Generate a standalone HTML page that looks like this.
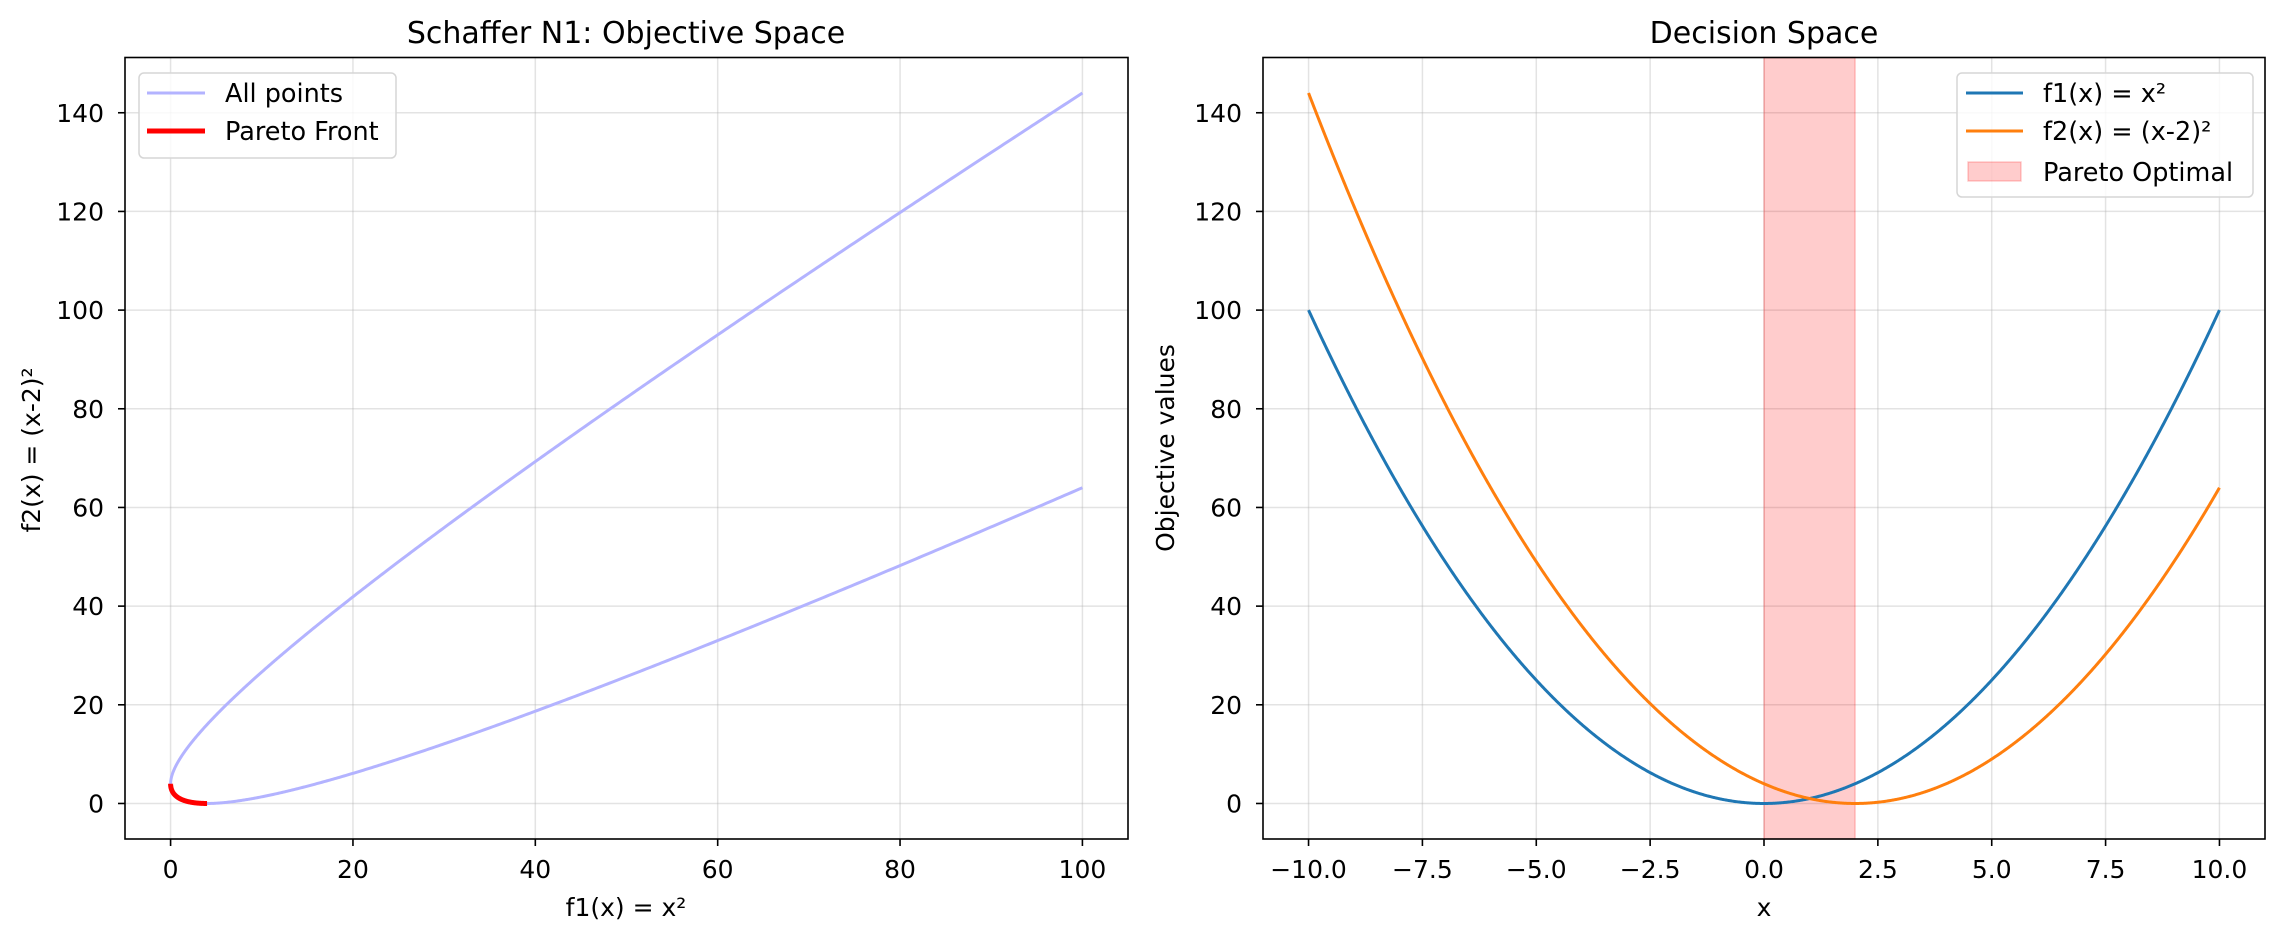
<!DOCTYPE html>
<html><head><meta charset="utf-8"><style>
html,body{margin:0;padding:0;background:#fff;}
svg{display:block;font-family:"DejaVu Sans","Liberation Sans",sans-serif;}
</style></head><body>
<svg id="s" width="2284" height="940" viewBox="0 0 2284 940" xmlns="http://www.w3.org/2000/svg">
<rect width="2284" height="940" fill="#fff"/>
<g id="g"></g>
<text x="626" y="43" font-size="30" text-anchor="middle">Schaffer N1: Objective Space</text>
<text x="1764" y="43" font-size="30" text-anchor="middle">Decision Space</text>
<text x="626" y="916" font-size="25" text-anchor="middle">f1(x) = x²</text>
<text x="1764" y="916" font-size="25" text-anchor="middle">x</text>
<text transform="translate(40,450) rotate(-90)" font-size="25" text-anchor="middle">f2(x) = (x-2)²</text>
<text transform="translate(1174,448) rotate(-90)" font-size="25" text-anchor="middle">Objective values</text>
<rect x="139" y="73" width="257" height="85" rx="5" fill="#fff" fill-opacity="0.8" stroke="#d6d6d6" stroke-width="1.5"/>
<line x1="147" y1="93" x2="205" y2="93" stroke="#b3b3ff" stroke-width="3"/>
<line x1="147" y1="131" x2="205" y2="131" stroke="#ff0000" stroke-width="5"/>
<text x="225" y="102" font-size="25.5">All points</text>
<text x="225" y="140" font-size="25.5">Pareto Front</text>
<rect x="1957" y="73" width="296" height="124" rx="5" fill="#fff" fill-opacity="0.8" stroke="#d6d6d6" stroke-width="1.5"/>
<line x1="1966" y1="93" x2="2023" y2="93" stroke="#1f77b4" stroke-width="3"/>
<line x1="1966" y1="131" x2="2023" y2="131" stroke="#ff7f0e" stroke-width="3"/>
<rect x="1968" y="162" width="53" height="19" fill="#ff0000" fill-opacity="0.2" stroke="#ff0000" stroke-opacity="0.2" stroke-width="1.5"/>
<text x="2043" y="102" font-size="25.5">f1(x) = x²</text>
<text x="2043" y="140" font-size="25.5">f2(x) = (x-2)²</text>
<text x="2043" y="181" font-size="25.5">Pareto Optimal</text>
</svg>
<script>
(function(){
const NS="http://www.w3.org/2000/svg";
const g=document.getElementById('g');
function el(t,a,txt){const e=document.createElementNS(NS,t);for(const k in a)e.setAttribute(k,a[k]);if(txt!==undefined)e.textContent=txt;g.appendChild(e);return e;}
const T=57.5,B=839;
const yv=v=>B-(v+7.2)*(B-T)/158.4;
function axes(L,R,x0,x1,xt,fmt,draw){
  const xv=v=>L+(v-x0)*(R-L)/(x1-x0);
  xt.forEach(v=>el('line',{x1:xv(v),x2:xv(v),y1:T,y2:B,stroke:'#b0b0b0','stroke-opacity':0.35,'stroke-width':1.5}));
  for(let v=0;v<=140;v+=20)el('line',{x1:L,x2:R,y1:yv(v),y2:yv(v),stroke:'#b0b0b0','stroke-opacity':0.35,'stroke-width':1.5});
  draw(xv);
  el('rect',{x:L,y:T,width:R-L,height:B-T,fill:'none',stroke:'#000','stroke-width':1.6});
  xt.forEach(v=>{el('line',{x1:xv(v),x2:xv(v),y1:B,y2:B+7,stroke:'#000','stroke-width':1.6});
    el('text',{x:xv(v),y:878,'font-size':25,'text-anchor':'middle'},fmt(v));});
  for(let v=0;v<=140;v+=20){el('line',{x1:L-7,x2:L,y1:yv(v),y2:yv(v),stroke:'#000','stroke-width':1.6});
    el('text',{x:L-21,y:yv(v)+9,'font-size':25,'text-anchor':'end'},String(v));}
}
function path(pts,a){a.d='M'+pts.map(p=>p[0].toFixed(2)+','+p[1].toFixed(2)).join('L');a.fill='none';a['stroke-linejoin']='round';el('path',a);}
axes(125,1128,-5,105,[0,20,40,60,80,100],v=>String(v),xv=>{
  const p=[];for(let i=0;i<=1000;i++){const x=-10+20*i/1000;p.push([xv(x*x),yv((x-2)*(x-2))]);}
  path(p,{stroke:'#b3b3ff','stroke-width':3});
  const q=[];for(let i=0;i<=200;i++){const x=2*i/200;q.push([xv(x*x),yv((x-2)*(x-2))]);}
  path(q,{stroke:'#ff0000','stroke-width':5});
});
axes(1263,2265,-11,11,[-10,-7.5,-5,-2.5,0,2.5,5,7.5,10],v=>(v<0?'\u2212':'')+Math.abs(v).toFixed(1),xv=>{
  el('rect',{x:xv(0),y:T,width:xv(2)-xv(0),height:B-T,fill:'#ff0000','fill-opacity':0.2,stroke:'#ff0000','stroke-opacity':0.2,'stroke-width':1.5});
  const p=[],q=[];for(let i=0;i<=1000;i++){const x=-10+20*i/1000;p.push([xv(x),yv(x*x)]);q.push([xv(x),yv((x-2)*(x-2))]);}
  path(p,{stroke:'#1f77b4','stroke-width':3});
  path(q,{stroke:'#ff7f0e','stroke-width':3});
});
})();
</script>
</body></html>
